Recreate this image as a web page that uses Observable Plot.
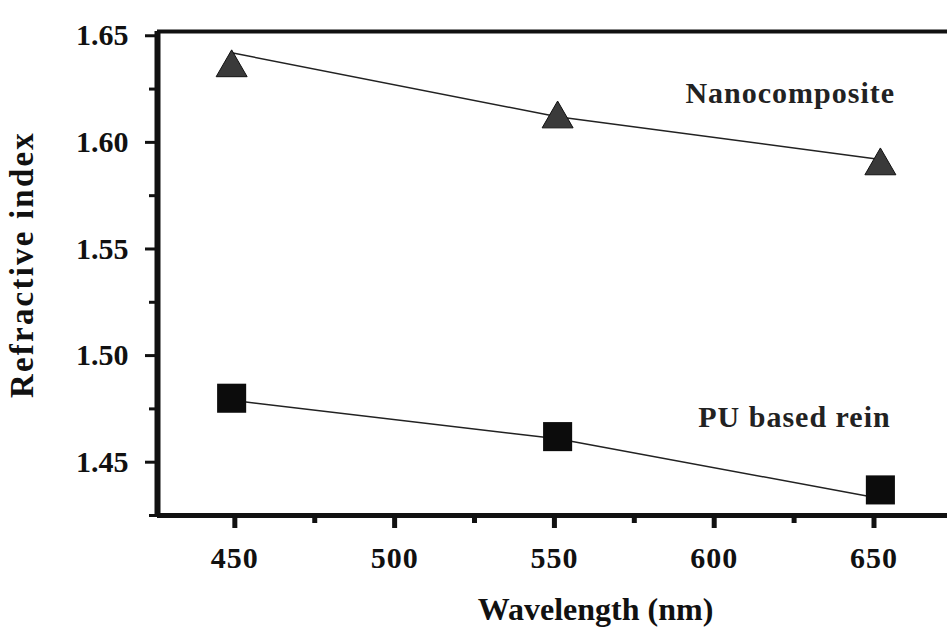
<!DOCTYPE html>
<html>
<head>
<meta charset="utf-8">
<script src="https://cdn.jsdelivr.net/npm/d3@7"></script>
<script src="https://cdn.jsdelivr.net/npm/@observablehq/plot@0.6"></script>
<style>
  html, body { margin: 0; padding: 0; background: #fff; }
  #chart { width: 947px; height: 633px; overflow: hidden; }
</style>
</head>
<body>
<div id="chart"></div>
<script>
// Data
const wavelengths = [449, 551, 652];
// marker values
const nanocomposite = [1.635, 1.611, 1.589];
const puResin = [1.480, 1.462, 1.437];
// connecting-line vertices (as drawn in the picture)
const nanocompositeLine = [1.642, 1.612, 1.592];
const puResinLine = [1.479, 1.461, 1.433];

const xTicks = [450, 500, 550, 600, 650];
const xMinorTicks = [475, 525, 575, 625];
const yTicks = [1.45, 1.50, 1.55, 1.60, 1.65];
const yMinorTicks = [1.425, 1.475, 1.525, 1.575, 1.625];

const xDomain = [425.8, 673];
const yDomain = [1.425, 1.652];

const seriesNames = ["Nanocomposite", "PU based rein"];
const labelX = [591, 595];
const labelY = [1.623, 1.471];

const xTitle = "Wavelength (nm)";
const yTitle = "Refractive index";

const nanoData = wavelengths.map((w, i) => ({x: w, y: nanocomposite[i], yl: nanocompositeLine[i]}));
const puData = wavelengths.map((w, i) => ({x: w, y: puResin[i], yl: puResinLine[i]}));
const labels = seriesNames.map((s, i) => ({name: s, x: labelX[i], y: labelY[i]}));

const chart = Plot.plot({
  width: 947,
  height: 633,
  marginLeft: 157,
  marginRight: 0,
  marginTop: 31,
  marginBottom: 118,
  style: {
    fontFamily: "'Liberation Serif', 'Times New Roman', serif",
    fontWeight: "bold",
    fontSize: "30px",
    color: "#111",
    background: "#fff",
    letterSpacing: "1px"
  },
  x: {domain: xDomain, label: null},
  y: {domain: yDomain, label: null},
  marks: [
    // connecting lines
    Plot.line(nanoData, {x: "x", y: "yl", stroke: "#222", strokeWidth: 1.5}),
    Plot.line(puData, {x: "x", y: "yl", stroke: "#222", strokeWidth: 1.5}),
    // markers
    Plot.dot(nanoData, {x: "x", y: "y", symbol: "triangle", r: 11.5, fill: "#3a3a3a", stroke: "#111", strokeWidth: 1}),
    Plot.dot(puData, {x: "x", y: "y", symbol: "square", r: 16.4, fill: "#0c0c0c"}),
    // frame lines
    Plot.ruleY([yDomain[1]], {stroke: "#111", strokeWidth: 4}),
    Plot.ruleY([yDomain[0]], {stroke: "#111", strokeWidth: 5}),
    Plot.ruleX([xDomain[0]], {stroke: "#111", strokeWidth: 6}),
    // axes
    Plot.axisX(xTicks, {tickSize: 13, tickPadding: 18, strokeWidth: 5, tickFormat: d => String(d), fill: "#111"}),
    Plot.axisX(xMinorTicks, {tickSize: 8, strokeWidth: 5, text: null}),
    Plot.axisY(yTicks, {tickSize: 12, tickPadding: 17, strokeWidth: 3, tickFormat: d => d.toFixed(2), fill: "#111"}),
    Plot.axisY(yMinorTicks, {tickSize: 8, strokeWidth: 3, text: null}),
    // series labels
    Plot.text(labels, {x: "x", y: "y", text: "name", textAnchor: "start", lineAnchor: "middle", fill: "#222", fontSize: 30, fontWeight: "bold"}),
    // axis titles
    Plot.text([xTitle], {frameAnchor: "bottom", dx: 43, dy: 94, fontSize: 32, fontWeight: "bold", fill: "#111", lineAnchor: "middle", textAnchor: "middle"}),
    Plot.text([yTitle], {frameAnchor: "left", rotate: -90, textAnchor: "middle", dx: -135, dy: -9, fontSize: 33, fontWeight: "bold", fill: "#111", lineAnchor: "middle"})
  ]
});
// per-text letter spacing adjustments
d3.select(chart).selectAll("text").each(function() {
  const t = this.textContent;
  if (t === xTitle) this.style.letterSpacing = "0px";
  else if (t === yTitle) this.style.letterSpacing = "2.2px";
  else if (/^1\.\d\d$/.test(t)) this.style.letterSpacing = "0px";
});
document.getElementById("chart").appendChild(chart);
</script>
</body>
</html>
